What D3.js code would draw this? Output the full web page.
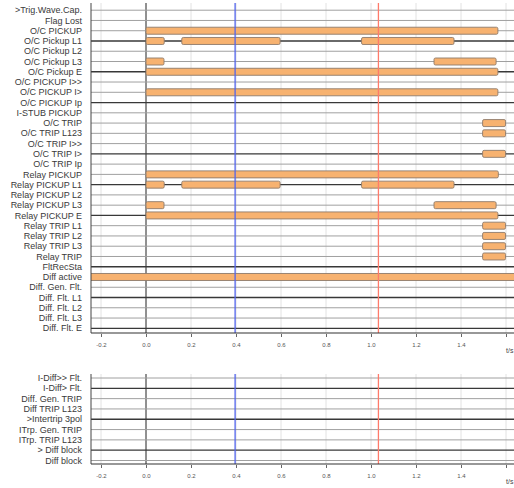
<!DOCTYPE html>
<html>
<head>
<meta charset="UTF-8" />
<title>Binary traces</title>
<style>
  body { margin: 0; background: #fff; }
  svg { display: block; font-family: Arial, "Liberation Sans", sans-serif; }
  .lbl { font-size: 9px; fill: #3a3a3a; }
  .tick text { font-size: 6px; fill: #555; }
</style>
<script src="https://d3js.org/d3.v7.min.js"></script>
</head>
<body>
<svg id="chart" width="514" height="488"></svg>
<script>
// ---- data ----
const topSignals = [
  ">Trig.Wave.Cap.", "Flag Lost", "O/C PICKUP", "O/C Pickup L1", "O/C Pickup L2",
  "O/C Pickup L3", "O/C Pickup E", "O/C PICKUP I>>", "O/C PICKUP I>", "O/C PICKUP Ip",
  "I-STUB PICKUP", "O/C TRIP", "O/C TRIP L123", "O/C TRIP I>>", "O/C TRIP I>",
  "O/C TRIP Ip", "Relay PICKUP", "Relay PICKUP L1", "Relay PICKUP L2", "Relay PICKUP L3",
  "Relay PICKUP E", "Relay TRIP L1", "Relay TRIP L2", "Relay TRIP L3", "Relay TRIP",
  "FltRecSta", "Diff active", "Diff. Gen. Flt.", "Diff. Flt. L1", "Diff. Flt. L2",
  "Diff. Flt. L3", "Diff. Flt. E"
];
const bottomSignals = [
  "I-Diff>> Flt.", "I-Diff> Flt.", "Diff. Gen. TRIP", "Diff TRIP L123", ">Intertrip 3pol",
  "ITrp. Gen. TRIP", "ITrp. TRIP L123", "> Diff block", "Diff block"
];
// [signal, on (s), off (s)]
const topIntervals = [
  ["O/C PICKUP", 0, 1.564],
  ["O/C Pickup L1", 0, 0.081], ["O/C Pickup L1", 0.159, 0.596], ["O/C Pickup L1", 0.958, 1.369],
  ["O/C Pickup L3", 0, 0.080], ["O/C Pickup L3", 1.280, 1.556],
  ["O/C Pickup E", 0, 1.564],
  ["O/C PICKUP I>", 0, 1.564],
  ["O/C TRIP", 1.496, 1.598], ["O/C TRIP L123", 1.496, 1.598], ["O/C TRIP I>", 1.496, 1.598],
  ["Relay PICKUP", 0, 1.566],
  ["Relay PICKUP L1", 0, 0.081], ["Relay PICKUP L1", 0.159, 0.596], ["Relay PICKUP L1", 0.958, 1.369],
  ["Relay PICKUP L3", 0, 0.080], ["Relay PICKUP L3", 1.280, 1.556],
  ["Relay PICKUP E", 0, 1.564],
  ["Relay TRIP L1", 1.496, 1.598], ["Relay TRIP L2", 1.496, 1.598],
  ["Relay TRIP L3", 1.496, 1.598], ["Relay TRIP", 1.496, 1.598],
  ["Diff active", -0.3, 1.8]
];
const bottomIntervals = [];
const tickValues = [-0.2, 0, 0.2, 0.4, 0.6, 0.8, 1.0, 1.2, 1.4, 1.6];
const tickLabels = ["-0.2", "0.0", "0.2", "0.4", "0.6", "0.8", "1.0", "1.2", "1.4", ""];
const cursors = [0.396, 1.033];

// ---- style ----
const darkRows = new Set([
  "O/C Pickup L1", "O/C Pickup E", "O/C PICKUP Ip", "O/C TRIP I>", "Relay PICKUP L1",
  "Relay PICKUP E", "FltRecSta", "Diff. Flt. L1", "Diff. Flt. E",
  "I-Diff> Flt.", ">Intertrip 3pol", "> Diff block"
]);
const cursorColors = ["#5364ec", "#ff7a6a"];
const plotLeft = 91, plotRight = 514;

const svg = d3.select("#chart");
const x = d3.scaleLinear().domain([0, 1.6]).range([146, 506]);

svg.append("defs").append("clipPath").attr("id", "clip")
  .append("rect").attr("x", plotLeft).attr("y", 0).attr("width", plotRight - plotLeft).attr("height", 488);

function drawPanel(signals, intervals, top, first, last, bottom) {
  const y = d3.scalePoint().domain(signals).range([first, last]);
  const g = svg.append("g");
  const plot = g.append("g").attr("clip-path", "url(#clip)");

  // vertical grid
  plot.selectAll("line.grid").data(tickValues).enter().append("line")
    .attr("x1", d => x(d)).attr("x2", d => x(d))
    .attr("y1", top).attr("y2", bottom)
    .attr("stroke", d => d === 0 ? "#222" : "#e2e2e2")
    .attr("stroke-width", 1);

  // signal base lines
  plot.selectAll("line.row").data(signals).enter().append("line")
    .attr("x1", plotLeft).attr("x2", plotRight)
    .attr("y1", d => y(d)).attr("y2", d => y(d))
    .attr("stroke", d => darkRows.has(d) ? "#383838" : "#a0a0a0")
    .attr("stroke-width", d => darkRows.has(d) ? 1.3 : 1);

  // active intervals
  plot.selectAll("rect.bar").data(intervals).enter().append("rect")
    .attr("x", d => x(d[1])).attr("width", d => x(d[2]) - x(d[1]))
    .attr("y", d => y(d[0]) - 3.5).attr("height", 7)
    .attr("rx", 1.5)
    .attr("fill", "#f7b270").attr("stroke", "#8d7b6b").attr("stroke-width", 0.9);

  // cursors
  plot.selectAll("line.cursor").data(cursors).enter().append("line")
    .attr("x1", d => x(d)).attr("x2", d => x(d))
    .attr("y1", top).attr("y2", bottom)
    .attr("stroke", (d, i) => cursorColors[i]).attr("stroke-width", 1.3);

  // frame: left and bottom
  g.append("line").attr("x1", plotLeft).attr("x2", plotLeft).attr("y1", top).attr("y2", bottom)
    .attr("stroke", "#444");
  g.append("line").attr("x1", plotLeft).attr("x2", plotRight).attr("y1", bottom).attr("y2", bottom)
    .attr("stroke", "#333").attr("stroke-width", 1.2);

  // x axis
  const axis = d3.axisBottom(x).tickValues(tickValues).tickSize(3).tickPadding(6)
    .tickFormat((d, i) => tickLabels[i]);
  const ax = g.append("g").attr("transform", `translate(0,${bottom + 1})`).call(axis);
  ax.select(".domain").remove();
  ax.selectAll(".tick line").attr("stroke", "#666");

  g.append("text").attr("x", 506).attr("y", bottom + 20).attr("font-size", 7).attr("fill", "#444")
    .text("t/s");

  // row labels
  g.selectAll("text.lbl").data(signals).enter().append("text")
    .attr("class", "lbl")
    .attr("x", 82).attr("y", d => y(d)).attr("dy", "0.35em")
    .attr("text-anchor", "end")
    .text(d => d);
}

drawPanel(topSignals, topIntervals, 3, 10.2, 328.3, 333);
drawPanel(bottomSignals, bottomIntervals, 374, 378, 460.5, 464);
</script>
</body>
</html>
